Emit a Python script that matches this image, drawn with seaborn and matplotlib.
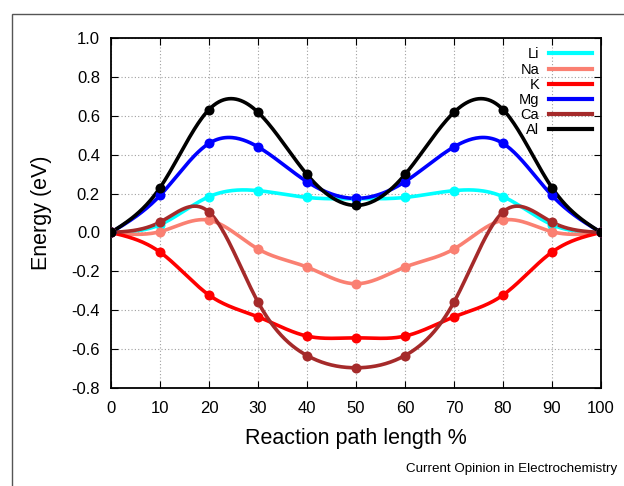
import numpy as np
import pandas as pd
import matplotlib
matplotlib.use("Agg")
import matplotlib.pyplot as plt
import seaborn as sns
from matplotlib.lines import Line2D
from matplotlib.patches import Rectangle

# ---- data ----
path = [0, 10, 20, 30, 40, 50, 60, 70, 80, 90, 100]
li = [0.0, 0.04, 0.184, 0.215, 0.18, 0.173, 0.18, 0.215, 0.184, 0.04, 0.0]
na = [0.0, 0.004, 0.063, -0.085, -0.178, -0.264, -0.178, -0.085, 0.063, 0.004, 0.0]
k = [0.0, -0.101, -0.322, -0.434, -0.533, -0.542, -0.533, -0.434, -0.322, -0.101, 0.0]
mg = [0.0, 0.19, 0.458, 0.44, 0.261, 0.175, 0.261, 0.44, 0.458, 0.19, 0.0]
ca = [0.0, 0.053, 0.105, -0.358, -0.633, -0.696, -0.633, -0.358, 0.105, 0.053, 0.0]
al = [0.0, 0.23, 0.632, 0.618, 0.298, 0.139, 0.298, 0.618, 0.632, 0.23, 0.0]
names = ["Li", "Na", "K", "Mg", "Ca", "Al"]
series = [li, na, k, mg, ca, al]
colors = ["#00ffff", "#fa8072", "#ff0000", "#0000ff", "#a52a2a", "#000000"]
xticks = [0, 10, 20, 30, 40, 50, 60, 70, 80, 90, 100]
yticks = [-0.8, -0.6, -0.4, -0.2, 0.0, 0.2, 0.4, 0.6, 0.8, 1.0]


def natural_spline(x, y, xs):
    x = np.asarray(x, float); y = np.asarray(y, float)
    n = len(x)
    h = np.diff(x)
    A = np.zeros((n, n)); b = np.zeros(n)
    A[0, 0] = 1; A[-1, -1] = 1
    for i in range(1, n - 1):
        A[i, i - 1] = h[i - 1]
        A[i, i] = 2 * (h[i - 1] + h[i])
        A[i, i + 1] = h[i]
        b[i] = 3 * ((y[i + 1] - y[i]) / h[i] - (y[i] - y[i - 1]) / h[i - 1])
    c = np.linalg.solve(A, b)
    out = np.empty_like(xs)
    for j, xv in enumerate(xs):
        i = min(np.searchsorted(x, xv, side="right") - 1, n - 2)
        i = max(i, 0)
        dx = xv - x[i]
        bi = (y[i + 1] - y[i]) / h[i] - h[i] * (2 * c[i] + c[i + 1]) / 3
        di = (c[i + 1] - c[i]) / (3 * h[i])
        out[j] = y[i] + bi * dx + c[i] * dx ** 2 + di * dx ** 3
    return out


font = "Liberation Sans"
plt.rcParams["font.family"] = [font, "DejaVu Sans"]

fig = plt.figure(figsize=(6.24, 4.86), dpi=100)
ax = fig.add_axes([111 / 624, 1 - 388 / 486, 490 / 624, 350 / 486])

xs = np.linspace(0, 100, 401)
for name, vals, col in zip(names, series, colors):
    smooth = pd.DataFrame({"x": xs, "y": natural_spline(path, vals, xs)})
    pts = pd.DataFrame({"x": path, "y": vals})
    sns.lineplot(data=smooth, x="x", y="y", color=col, linewidth=2.6, ax=ax,
                 sort=False, zorder=3)
    sns.scatterplot(data=pts, x="x", y="y", color=col, s=52, linewidth=0,
                    ax=ax, zorder=4)

ax.set_xlim(0, 100)
ax.set_ylim(-0.8, 1.0)
ax.set_xticks(xticks)
ax.set_yticks(yticks)
ax.set_xticklabels([str(t) for t in xticks])
ax.set_yticklabels([f"{t:.1f}" for t in yticks])
ax.grid(True, color="#a0a0a0", linestyle=(0, (1, 2)), linewidth=0.8)
ax.set_axisbelow(True)
ax.tick_params(direction="in", top=True, right=True, length=5, width=0.8,
               labelsize=12)
ax.tick_params(axis="x", pad=9)
ax.tick_params(axis="y", pad=8)
for s in ax.spines.values():
    s.set_linewidth(1.3)
ax.set_xlabel("Reaction path length %", fontsize=15.5, labelpad=9)
ax.set_ylabel("Energy (eV)", fontsize=15.5, labelpad=14)

handles = [Line2D([], [], color=c, linewidth=3) for c in colors]
ax.legend(handles, names, loc="upper right", frameon=False, fontsize=10.5,
          markerfirst=False, handlelength=2.9, handletextpad=0.7,
          labelspacing=0.08, borderpad=0.15, borderaxespad=0.5)

fig.text(617 / 624, 1 - 469 / 486, "Current Opinion in Electrochemistry",
         ha="right", va="center", fontsize=9.6)

fig.patches.append(Rectangle((12 / 624, -0.1), 1.2, 1 - 14 / 486 + 0.1,
                             transform=fig.transFigure, fill=False,
                             edgecolor="#555555", linewidth=1.0))

fig.savefig("out.png", dpi=100)
